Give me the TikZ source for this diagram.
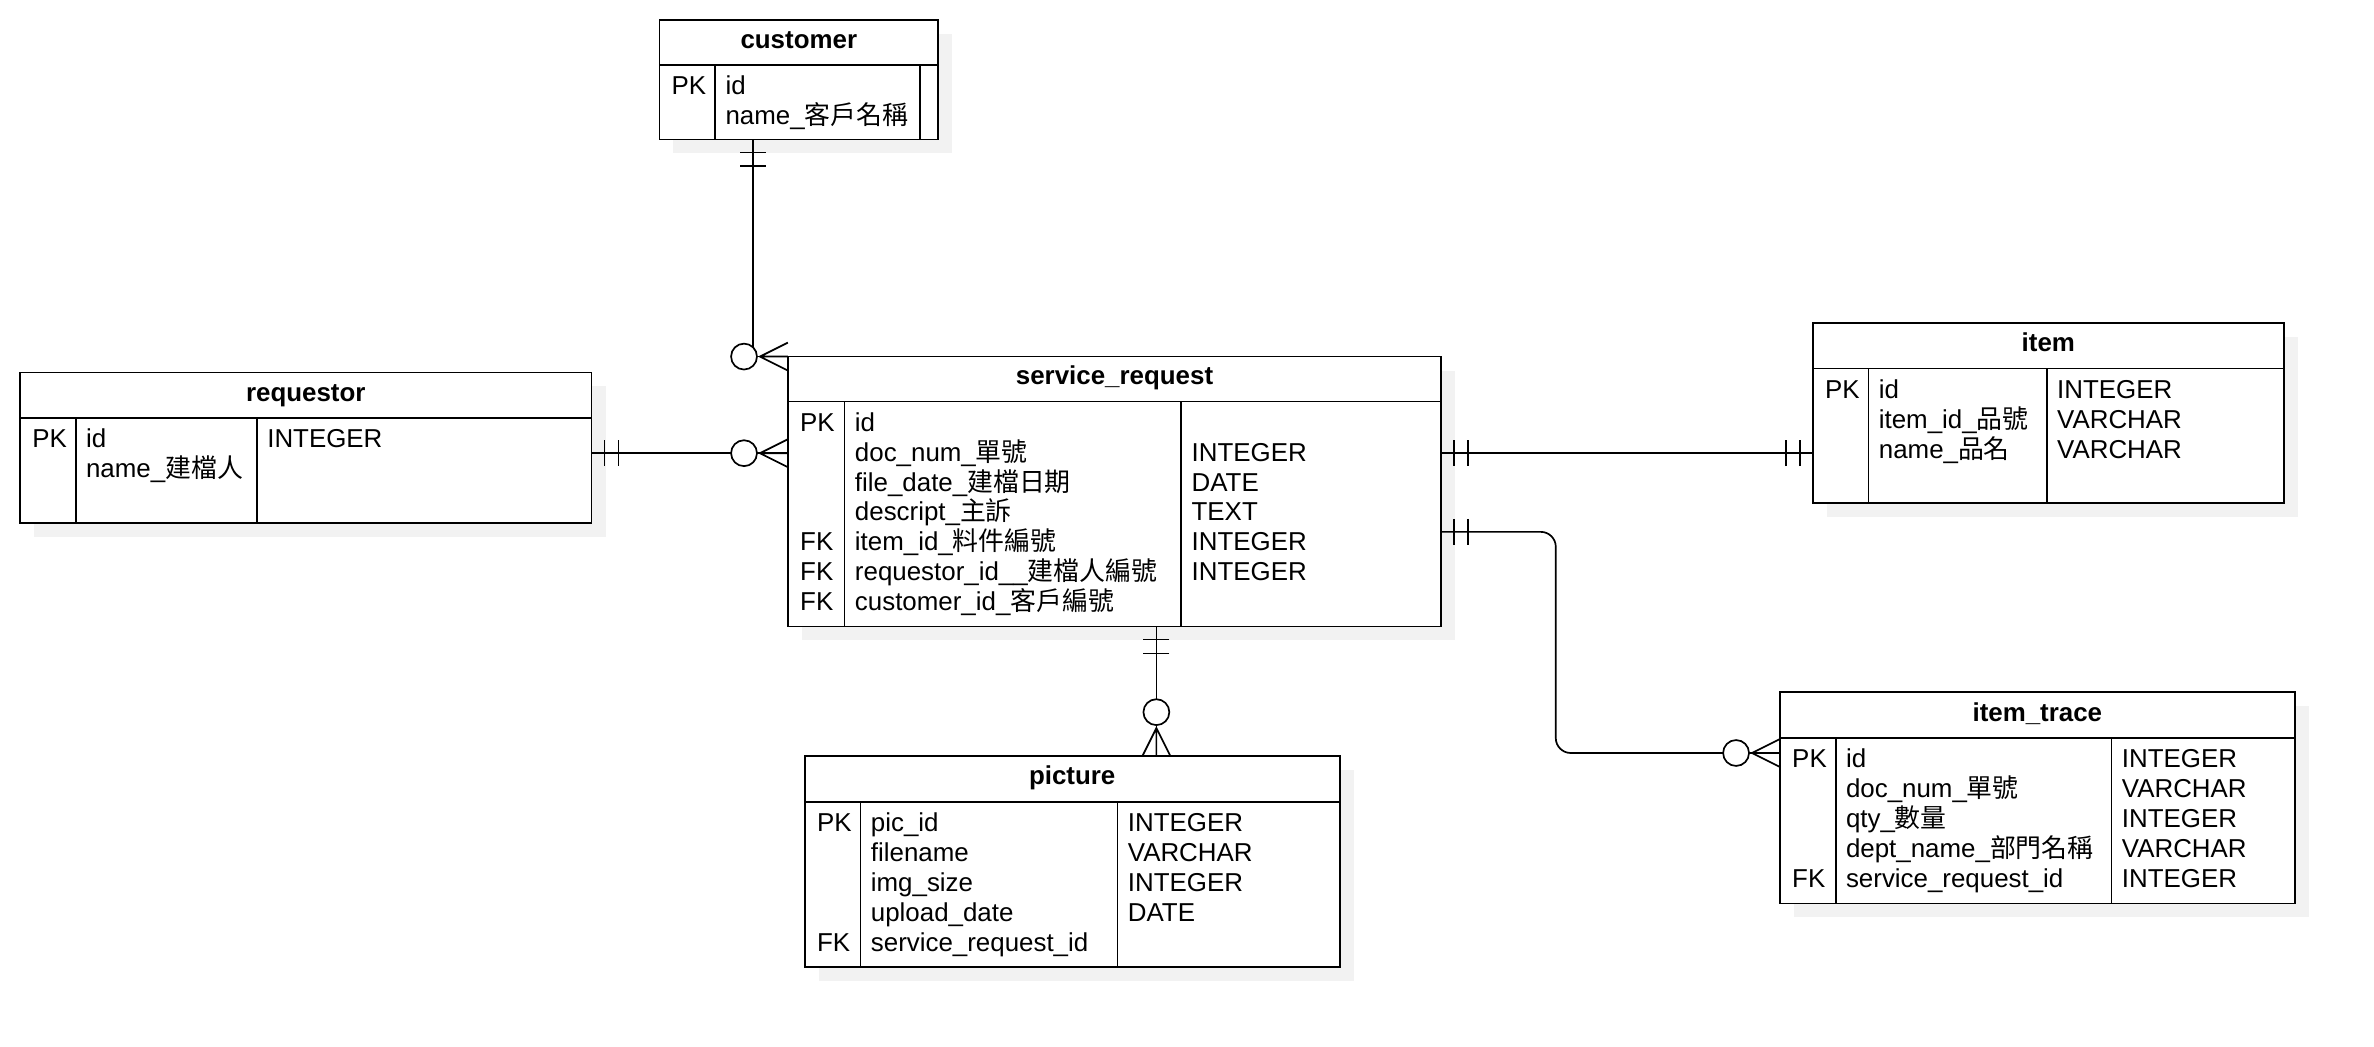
\documentclass[tikz,border=0pt]{standalone}
\usepackage{fontspec}
\setmainfont{Liberation Sans}
\newfontfamily\cjk{Noto Sans CJK TC}
\usetikzlibrary{fit,shadows}
\definecolor{ershadow}{RGB}{242,242,242}
\tikzstyle{entity} = [rectangle, draw=black, fill=white, line width=0.85pt, inner sep=0pt, outer sep=0pt, drop shadow={shadow xshift=7pt, shadow yshift=-7pt, fill=ershadow, opacity=1}]
\tikzstyle{enttitle} = [anchor=base, inner sep=0pt, font=\bfseries\fontsize{13pt}{15pt}\selectfont]
\tikzstyle{field} = [anchor=base west, inner sep=0pt, font=\fontsize{13pt}{15pt}\selectfont]
\tikzstyle{relation} = [line width=0.85pt, draw=black]
\tikzset{
  pics/onlyone/.style={code={
    \draw[relation] (13,-13) -- (13,13) (27,-13) -- (27,13);
  }},
  pics/zeromany/.style={code={
    \draw[relation] (0,-14) -- (28,0) -- (0,14) (0,0) -- (28,0);
    \draw[relation, fill=white] (44,0) circle [radius=13];
  }}
}

\begin{document}
\begin{tikzpicture}[x=0.5pt, y=-0.5pt]
\path[use as bounding box, fill=white] (0,0) rectangle (2383.5,1050.2);

% customer
\node[entity, fit={(662,20) (942,140)}] (customer) {};
\draw[relation] (662,65) -- (942,65) (718,65) -- (718,140) (924,65) -- (924,140);
\node[enttitle] (customer-title) at (802,49) {customer};
\node[field] (customer-pk) at (674,95) {PK};
\foreach \txt [count=\i from 0] in {id, name\_{\cjk 客戶名稱}}
  \node[field] (customer-name-\i) at (728,95+30*\i) {\txt};

% requestor
\node[entity, fit={(20,374) (594,525)}] (requestor) {};
\draw[relation] (20,420) -- (594,420) (76,420) -- (76,525) (258,420) -- (258,525);
\node[enttitle] (requestor-title) at (307,403) {requestor};
\node[field] (requestor-pk) at (32,449) {PK};
\foreach \txt [count=\i from 0] in {id, name\_{\cjk 建檔人}}
  \node[field] (requestor-name-\i) at (86,449+30*\i) {\txt};
\node[field] (requestor-type-0) at (268,449) {INTEGER};

% service_request
\node[entity, fit={(791,358) (1447,629)}] (srequest) {};
\draw[relation] (791,403) -- (1447,403) (848,403) -- (848,629) (1186,403) -- (1186,629);
\node[enttitle] (srequest-title) at (1119,386.5) {service\_request};
\foreach \k/\i in {PK/0, FK/4, FK/5, FK/6}
  \node[field] (srequest-key-\i) at (803,433+30*\i) {\k};
\foreach \txt [count=\i from 0] in {id, doc\_num\_{\cjk 單號}, file\_date\_{\cjk 建檔日期}, descript\_{\cjk 主訴}, item\_id\_{\cjk 料件編號}, requestor\_id\_\_{\cjk 建檔人編號}, customer\_id\_{\cjk 客戶編號}}
  \node[field] (srequest-name-\i) at (858,433+30*\i) {\txt};
\foreach \txt [count=\i from 1] in {INTEGER, DATE, TEXT, INTEGER, INTEGER}
  \node[field] (srequest-type-\i) at (1196,433+30*\i) {\txt};

% item
\node[entity, fit={(1820,324) (2293,505)}] (item) {};
\draw[relation] (1820,370) -- (2293,370) (1876,370) -- (1876,505) (2055,370) -- (2055,505);
\node[enttitle] (item-title) at (2056.5,353) {item};
\node[field] (item-pk) at (1832,400) {PK};
\foreach \txt [count=\i from 0] in {id, item\_id\_{\cjk 品號}, name\_{\cjk 品名}}
  \node[field] (item-name-\i) at (1886,400+30*\i) {\txt};
\foreach \txt [count=\i from 0] in {INTEGER, VARCHAR, VARCHAR}
  \node[field] (item-type-\i) at (2065,400+30*\i) {\txt};

% picture
\node[entity, fit={(808,759) (1345,971)}] (picture) {};
\draw[relation] (808,805) -- (1345,805) (864,805) -- (864,971) (1122,805) -- (1122,971);
\node[enttitle] (picture-title) at (1076.5,788) {picture};
\foreach \k/\i in {PK/0, FK/4}
  \node[field] (picture-key-\i) at (820,835+30*\i) {\k};
\foreach \txt [count=\i from 0] in {pic\_id, filename, img\_size, upload\_date, service\_request\_id}
  \node[field] (picture-name-\i) at (874,835+30*\i) {\txt};
\foreach \txt [count=\i from 0] in {INTEGER, VARCHAR, INTEGER, DATE}
  \node[field] (picture-type-\i) at (1132,835+30*\i) {\txt};

% item_trace
\node[entity, fit={(1787,695) (2304,907)}] (itemtrace) {};
\draw[relation] (1787,741) -- (2304,741) (1843,741) -- (1843,907) (2120,741) -- (2120,907);
\node[enttitle] (itemtrace-title) at (2045.5,724) {item\_trace};
\foreach \k/\i in {PK/0, FK/4}
  \node[field] (itemtrace-key-\i) at (1799,771+30*\i) {\k};
\foreach \txt [count=\i from 0] in {id, doc\_num\_{\cjk 單號}, qty\_{\cjk 數量}, dept\_name\_{\cjk 部門名稱}, service\_request\_id}
  \node[field] (itemtrace-name-\i) at (1853,771+30*\i) {\txt};
\foreach \txt [count=\i from 0] in {INTEGER, VARCHAR, INTEGER, VARCHAR, INTEGER}
  \node[field] (itemtrace-type-\i) at (2130,771+30*\i) {\txt};

% relations
\draw[relation] (customer.south -| 756,0) |- (srequest.north west);
\pic[rotate=-90] at (customer.south -| 756,0) {onlyone};
\pic[rotate=180] at (srequest.north west) {zeromany};

\draw[relation] (requestor.east |- 0,455) -- (srequest.west |- 0,455);
\pic at (requestor.east |- 0,455) {onlyone};
\pic[rotate=180] at (srequest.west |- 0,455) {zeromany};

\draw[relation] (srequest.east |- 0,455) -- (item.west |- 0,455);
\pic at (srequest.east |- 0,455) {onlyone};
\pic[rotate=180] at (item.west |- 0,455) {onlyone};

\draw[relation, rounded corners=7.5pt] (srequest.east |- 0,534) -| (1562,756) -- (itemtrace.west |- 0,756);
\pic at (srequest.east |- 0,534) {onlyone};
\pic[rotate=180] at (itemtrace.west |- 0,756) {zeromany};

\draw[relation] (srequest.south -| 1161,0) -- (picture.north -| 1161,0);
\pic[rotate=-90] at (srequest.south -| 1161,0) {onlyone};
\pic[rotate=90] at (picture.north -| 1161,0) {zeromany};
\end{tikzpicture}
\end{document}
